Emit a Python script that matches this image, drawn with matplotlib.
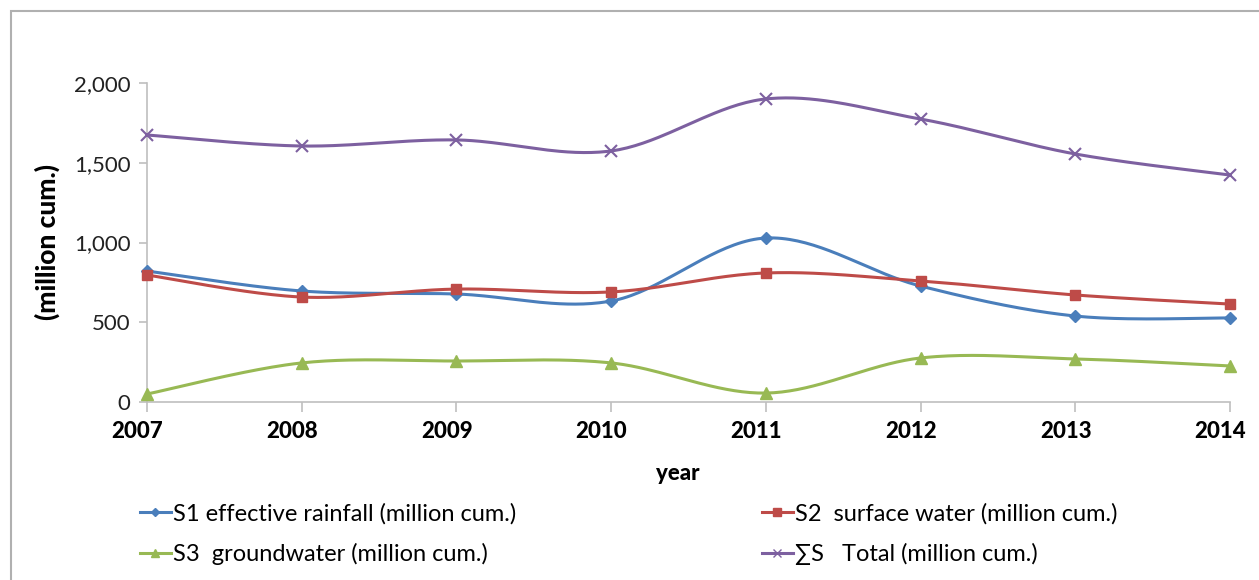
import matplotlib
matplotlib.use("Agg")
import matplotlib.pyplot as plt
import numpy as np
from matplotlib.patches import Rectangle
from matplotlib.lines import Line2D

plt.rcParams["font.family"] = ["Lato", "DejaVu Sans"]

years = [2007, 2008, 2009, 2010, 2011, 2012, 2013, 2014]
s1_rainfall = [821, 696, 677, 633, 1028, 727, 539, 527]
s2_surface = [796, 658, 708, 690, 809, 759, 671, 614]
s3_ground = [50, 245, 257, 245, 56, 276, 270, 226]
total = [1674, 1605, 1643, 1574, 1900, 1774, 1555, 1423]

labels = [
    "S1 effective rainfall (million cum.)",
    "S2  surface water (million cum.)",
    "S3  groundwater (million cum.)",
    "\u2211S   Total (million cum.)",
]
colors = ["#4A7EBB", "#BE4B48", "#98B954", "#7D60A0"]
markers = ["D", "s", "^", "x"]
msizes = [6, 7.5, 8.5, 8]


def smooth(x, y, n=40):
    # Excel-like smoothed line: cubic Bezier with Catmull-Rom control points
    x = np.asarray(x, float)
    y = np.asarray(y, float)
    pts = np.column_stack([x, y])
    out = [pts[0]]
    t = np.linspace(0, 1, n)[1:]
    for i in range(len(pts) - 1):
        p0 = pts[i - 1] if i > 0 else pts[i]
        p1 = pts[i]
        p2 = pts[i + 1]
        p3 = pts[i + 2] if i + 2 < len(pts) else pts[i + 1]
        c1 = p1 + (p2 - p0) / 6
        c2 = p2 - (p3 - p1) / 6
        seg = ((1 - t) ** 3)[:, None] * p1 + (3 * (1 - t) ** 2 * t)[:, None] * c1 \
            + (3 * (1 - t) * t ** 2)[:, None] * c2 + (t ** 3)[:, None] * p2
        out.extend(seg)
    out = np.array(out)
    return out[:, 0], out[:, 1]


fig = plt.figure(figsize=(12.59, 5.8), dpi=100)
ax = fig.add_axes([147 / 1259, 1 - 402 / 580, (1230 - 147) / 1259, (402 - 83) / 580])

series = [s1_rainfall, s2_surface, s3_ground, total]
handles = []
for vals, c, m, ms, lab in zip(series, colors, markers, msizes, labels):
    sx, sy = smooth(years, vals)
    ax.plot(sx, sy, color=c, lw=2.2, clip_on=False, zorder=3)
    mew = 1.5 if m == "x" else 1
    ax.plot(years, vals, ls="none", marker=m, ms=ms, color=c, mec=c, mew=mew,
            clip_on=False, zorder=4)
    handles.append(Line2D([], [], color=c, lw=2.2, marker=m, ms=ms * 0.7, mew=1, label=lab))

ax.set_xlim(2007, 2014)
ax.set_ylim(0, 2000)
ax.set_xticks(years)
ax.set_xticklabels([])
# year labels: excel puts them a little left of their ticks
for yr in years:
    ax.annotate(str(yr), xy=(yr, 0), xycoords=("data", "axes fraction"),
                xytext=(-7, -14), textcoords="offset points", ha="center", va="top",
                fontsize=16, fontweight="black", annotation_clip=False)
ax.set_yticks([0, 500, 1000, 1500, 2000])
ax.set_yticklabels(["0", "500", "1,000", "1,500", "2,000"], fontsize=16)
ax.tick_params(axis="x", direction="out", length=7, width=1.2, color="#BFBFBF")
ax.tick_params(axis="y", direction="out", length=6, width=1.2, color="#BFBFBF", pad=6,
               labelcolor="#222222")
for sp in ["top", "right"]:
    ax.spines[sp].set_visible(False)
for sp in ["left", "bottom"]:
    ax.spines[sp].set_color("#BFBFBF")
    ax.spines[sp].set_linewidth(1.2)

ax.set_xlabel("year", fontweight="black", fontsize=16)
ax.xaxis.set_label_coords(0.49, -0.19)
ax.set_ylabel("(million cum.)", fontweight="black", fontsize=19, labelpad=10)

leg_kw = dict(loc="upper left", frameon=False, fontsize=17, handlelength=1.3,
              handletextpad=0.1, labelspacing=0.8, borderpad=0, borderaxespad=0)
leg1 = fig.legend(handles=[handles[0], handles[2]],
                  bbox_to_anchor=(140 / 1259, 1 - 503 / 580), **leg_kw)
leg2 = fig.legend(handles=[handles[1], handles[3]],
                  bbox_to_anchor=(762 / 1259, 1 - 503 / 580), **leg_kw)

fig.add_artist(Rectangle((11 / 1259, -0.1), 1.2, 1.1 - 11 / 580, transform=fig.transFigure,
                         fill=False, edgecolor="#B0B0B0", lw=1.5))

fig.savefig("out.png", dpi=100)
